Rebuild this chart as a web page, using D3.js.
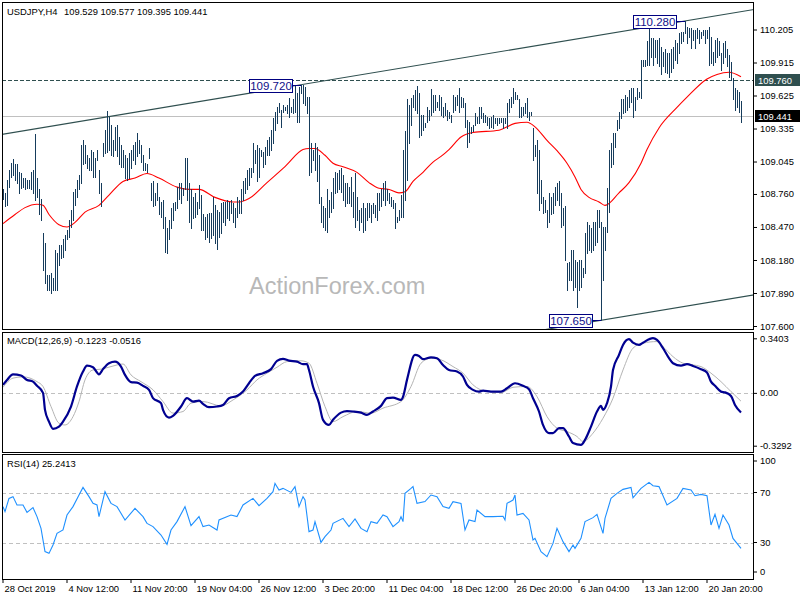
<!DOCTYPE html>
<html><head><meta charset="utf-8">
<script src="https://cdn.jsdelivr.net/npm/d3@7"></script>
<style>
body{margin:0;background:#fff;}
svg text{font-family:"Liberation Sans",Arial,sans-serif;}
</style></head><body>
<svg id="c" width="800" height="600"></svg>
<script>
const symbolTitle = "USDJPY,H4";
const ohlcText = "109.529 109.577 109.395 109.441";
const macdTitle = "MACD(12,26,9) -0.1223 -0.0516";
const rsiTitle = "RSI(14) 25.2413";

const high = [
108.80,108.77,108.88,108.97,109.03,109.07,109.02,109.02,108.95,108.94,
108.90,108.90,108.88,108.88,108.95,108.97,109.29,108.90,108.80,108.72,
108.42,108.33,108.05,108.05,108.07,108.02,108.27,108.24,108.31,108.31,
108.36,108.40,108.44,108.53,108.62,108.78,108.80,108.88,108.93,109.19,
109.23,109.19,109.10,109.08,109.15,109.13,109.08,109.15,108.97,108.86,
109.21,109.32,109.49,109.44,109.37,109.23,109.35,109.37,109.26,109.19,
109.15,109.10,109.08,109.12,109.15,109.19,109.22,109.30,109.23,109.19,
109.10,109.03,109.02,109.16,108.86,108.87,108.77,108.86,108.73,108.69,
108.71,108.56,108.46,108.53,108.64,108.68,108.69,108.82,108.86,108.86,
108.81,109.08,109.08,108.86,108.80,108.73,108.77,108.69,108.84,108.75,
108.58,108.56,108.58,108.59,108.59,108.73,108.66,108.62,108.60,108.68,
108.69,108.69,108.71,108.69,108.71,108.68,108.64,108.73,108.71,108.80,
108.87,108.90,108.97,108.99,108.99,109.21,109.15,109.19,109.16,109.15,
109.13,109.17,109.23,109.26,109.32,109.43,109.48,109.52,109.56,109.50,
109.54,109.52,109.54,109.60,109.52,109.59,109.72,109.65,109.70,109.72,
109.72,109.70,109.61,109.61,109.21,109.15,109.21,109.17,109.10,108.73,
108.65,108.64,108.80,108.71,108.78,108.90,108.95,108.94,108.97,108.99,
108.93,108.86,108.86,108.82,108.91,108.78,108.94,108.73,108.62,108.64,
108.68,108.64,108.68,108.68,108.66,108.68,108.66,108.77,108.77,108.80,
108.86,108.87,108.80,108.77,108.73,108.71,108.68,108.56,108.62,108.75,
109.15,109.31,109.59,109.54,109.60,109.63,109.67,109.71,109.65,109.45,
109.45,109.38,109.52,109.50,109.68,109.63,109.63,109.57,109.63,109.61,
109.52,109.56,109.50,109.48,109.45,109.63,109.61,109.63,109.69,109.61,
109.60,109.56,109.41,109.39,109.35,109.37,109.47,109.44,109.52,109.52,
109.47,109.45,109.44,109.43,109.44,109.45,109.43,109.43,109.43,109.43,
109.43,109.43,109.56,109.59,109.61,109.69,109.66,109.63,109.59,109.52,
109.52,109.56,109.60,109.48,109.48,109.34,109.19,109.23,109.15,108.88,
108.73,108.71,108.62,108.77,108.73,108.77,108.82,108.86,108.87,108.77,
108.64,108.65,108.15,108.16,108.27,108.27,108.18,108.16,108.18,108.18,
108.11,108.42,108.51,108.49,108.46,108.51,108.51,108.62,108.62,108.51,
108.47,108.47,108.81,109.15,109.21,109.30,109.30,109.41,109.48,109.59,
109.59,109.63,109.61,109.67,109.69,109.69,109.61,109.69,109.66,109.94,
109.94,109.94,110.10,110.23,110.13,110.13,110.11,110.11,110.13,110.05,
110.01,110.03,110.00,110.00,110.03,110.05,110.11,110.09,110.17,110.18,
110.18,110.28,110.23,110.22,110.22,110.20,110.20,110.22,110.20,110.18,
110.20,110.20,110.20,110.23,110.14,110.01,110.11,110.13,110.10,110.00,
110.09,110.10,110.03,109.98,109.92,109.78,109.69,109.67,109.66,109.577];

const low = [
108.72,108.65,108.66,108.82,108.91,108.93,108.88,108.86,108.77,108.81,
108.82,108.80,108.81,108.81,108.80,108.77,108.71,108.73,108.58,108.53,
108.09,107.98,107.92,107.92,107.89,107.92,107.92,107.92,108.14,108.20,
108.21,108.27,108.36,108.38,108.47,108.53,108.66,108.73,108.80,108.86,
109.02,109.03,108.99,108.97,108.97,108.91,108.91,109.06,108.77,108.65,
109.09,109.12,109.13,109.15,109.10,109.09,109.15,109.09,109.02,109.00,
109.00,108.90,108.88,108.90,108.99,109.06,109.02,109.09,109.12,109.04,
108.97,108.97,108.95,109.08,108.71,108.65,108.66,108.71,108.58,108.56,
108.46,108.25,108.24,108.36,108.46,108.53,108.62,108.64,108.72,108.68,
108.75,108.80,108.71,108.51,108.46,108.55,108.56,108.58,108.64,108.44,
108.44,108.36,108.38,108.34,108.37,108.40,108.33,108.28,108.38,108.42,
108.51,108.49,108.55,108.53,108.59,108.51,108.47,108.56,108.59,108.59,
108.71,108.77,108.80,108.84,108.91,108.95,109.03,108.87,108.91,109.09,
109.00,109.02,109.10,109.10,109.15,109.21,109.32,109.38,109.48,109.35,
109.48,109.50,109.47,109.44,109.48,109.47,109.48,109.39,109.39,109.65,
109.56,109.54,109.47,108.93,108.95,109.06,108.97,108.87,108.68,108.51,
108.47,108.44,108.43,108.56,108.60,108.64,108.77,108.78,108.80,108.78,
108.71,108.65,108.68,108.68,108.65,108.56,108.47,108.53,108.44,108.51,
108.43,108.44,108.53,108.56,108.51,108.59,108.56,108.53,108.62,108.65,
108.71,108.66,108.71,108.68,108.65,108.64,108.46,108.51,108.53,108.56,
108.56,108.71,108.88,109.21,109.37,109.52,109.50,109.47,109.26,109.28,
109.32,109.35,109.39,109.41,109.45,109.48,109.50,109.52,109.50,109.45,
109.44,109.45,109.41,109.43,109.39,109.48,109.50,109.54,109.48,109.52,
109.52,109.35,109.17,109.22,109.30,109.31,109.37,109.38,109.38,109.43,
109.39,109.39,109.37,109.34,109.35,109.34,109.38,109.37,109.38,109.39,
109.34,109.38,109.34,109.48,109.52,109.56,109.59,109.59,109.44,109.44,
109.45,109.47,109.44,109.41,109.45,109.06,109.09,108.77,108.62,108.68,
108.59,108.60,108.47,108.51,108.58,108.59,108.66,108.71,108.66,108.47,
108.49,108.18,107.92,108.00,108.00,107.92,107.94,107.77,107.92,107.94,
108.03,108.07,108.24,108.27,108.25,108.27,108.31,108.34,108.47,107.65,
108.00,108.27,108.43,108.60,109.00,109.02,109.17,109.32,109.34,109.43,
109.47,109.48,109.50,109.52,109.57,109.44,109.50,109.59,109.61,109.60,
109.88,109.88,109.89,109.89,109.96,109.89,109.96,109.91,109.88,109.81,
109.88,109.83,109.82,109.79,109.83,109.87,109.94,109.91,110.00,110.09,
110.10,110.17,110.09,110.14,110.04,110.11,110.04,110.13,110.09,110.13,
110.16,110.09,110.13,109.89,109.91,109.89,109.92,109.96,109.98,109.85,
109.91,109.96,109.88,109.79,109.76,109.59,109.50,109.52,109.48,109.395];

// moving average, read as [bar index, price]
const maPoints = [[0,108.50],[6,108.58],[11,108.64],[17,108.67],[20,108.66],[23,108.58],[28,108.49],[32,108.47],[36,108.51],[41,108.60],[48,108.66],[53,108.75],[60,108.87],[66,108.90],[72,108.94],[78,108.90],[87,108.82],[93,108.80],[98,108.80],[106,108.73],[115,108.69],[118,108.69],[123,108.72],[132,108.86],[141,109.00],[150,109.15],[153,109.16],[156,109.16],[161,109.10],[165,109.03],[170,109.00],[177,108.95],[183,108.86],[188,108.81],[193,108.80],[198,108.77],[201,108.78],[205,108.87],[210,108.95],[215,109.04],[219,109.09],[223,109.15],[229,109.26],[235,109.30],[248,109.32],[256,109.38],[262,109.39],[266,109.35],[272,109.23],[277,109.14],[282,109.03],[286,108.91],[289,108.80],[293,108.73],[298,108.69],[301,108.66],[308,108.77],[313,108.86],[319,109.03],[322,109.15],[328,109.34],[337,109.52],[342,109.61],[352,109.77],[357,109.81],[363,109.83],[369,109.79]];

const macdMain = [[0,0.05],[2,0.08],[5,0.116],[9,0.108],[12,0.081],[15,0.07],[17,0.044],[20,0],[21,-0.106],[23,-0.179],[25,-0.224],[28,-0.21],[30,-0.179],[34,-0.085],[37,0.04],[40,0.133],[42,0.17],[45,0.16],[48,0.116],[50,0.148],[53,0.185],[56,0.195],[59,0.164],[61,0.112],[64,0.067],[67,0.064],[70,0.044],[73,0.019],[75,-0.033],[79,-0.064],[80,-0.106],[83,-0.154],[85,-0.143],[89,-0.085],[92,-0.033],[95,-0.054],[98,-0.048],[100,-0.068],[103,-0.089],[107,-0.085],[110,-0.075],[113,-0.033],[117,-0.019],[120,0.008],[123,0.06],[126,0.106],[130,0.123],[134,0.148],[137,0.2],[140,0.212],[143,0.201],[147,0.195],[150,0.179],[152,0.179],[153,0.143],[155,0.04],[158,-0.064],[160,-0.168],[163,-0.2],[165,-0.168],[169,-0.123],[172,-0.114],[175,-0.116],[179,-0.123],[182,-0.137],[185,-0.116],[189,-0.081],[192,-0.033],[195,-0.029],[199,-0.044],[200,-0.025],[202,0.081],[206,0.237],[208,0.23],[210,0.21],[214,0.222],[217,0.216],[220,0.174],[223,0.143],[227,0.133],[230,0.102],[232,0.05],[235,0.019],[238,0.008],[240,0.014],[244,0.008],[249,0.008],[252,0.029],[256,0.06],[260,0.044],[263,0.023],[265,-0.033],[268,-0.116],[270,-0.2],[273,-0.251],[275,-0.251],[278,-0.22],[280,-0.22],[283,-0.272],[285,-0.313],[289,-0.324],[291,-0.293],[294,-0.21],[297,-0.116],[299,-0.081],[300,-0.106],[302,-0.064],[304,0.04],[305,0.143],[308,0.237],[310,0.299],[313,0.335],[315,0.313],[318,0.299],[320,0.313],[325,0.341],[327,0.33],[330,0.279],[333,0.216],[335,0.185],[339,0.17],[342,0.179],[345,0.168],[349,0.148],[352,0.127],[354,0.07],[356,0.044],[359,0.008],[361,0.003],[364,-0.019],[366,-0.075],[369,-0.1223]];

const macdSignal = [[0,0.035],[5,0.092],[10,0.1],[17,0.07],[20,0.04],[24,-0.085],[28,-0.189],[31,-0.2],[35,-0.148],[38,-0.054],[41,0.081],[45,0.143],[49,0.148],[54,0.164],[60,0.18],[64,0.112],[69,0.07],[75,0.019],[80,-0.054],[85,-0.126],[90,-0.116],[94,-0.064],[100,-0.054],[109,-0.081],[115,-0.044],[122,0.019],[127,0.081],[132,0.123],[137,0.16],[142,0.195],[149,0.2],[153,0.185],[157,0.06],[161,-0.085],[165,-0.179],[170,-0.148],[177,-0.116],[184,-0.126],[190,-0.095],[199,-0.054],[204,0.04],[209,0.185],[214,0.216],[219,0.206],[225,0.164],[230,0.123],[235,0.05],[242,0.008],[249,0.002],[255,0.035],[262,0.04],[267,-0.023],[272,-0.148],[277,-0.22],[282,-0.241],[287,-0.272],[290,-0.303],[295,-0.251],[300,-0.158],[305,-0.033],[310,0.143],[315,0.279],[320,0.31],[327,0.32],[330,0.288],[335,0.226],[340,0.185],[349,0.164],[354,0.123],[359,0.07],[364,0.008],[369,-0.0516]];

const rsiPoints = [[0,58.7],[1,54.7],[3,65.3],[5,66.7],[7,60],[10,60],[12,54.1],[15,57.9],[17,50.7],[19,41.3],[21,22.7],[23,21.3],[25,28],[27,37.3],[30,40],[32,52],[35,58.7],[38,68],[40,74.1],[43,66.7],[45,61.3],[47,60],[48,50.7],[51,70.7],[54,61.3],[57,58.7],[61,48],[66,57.3],[70,50.7],[72,45.3],[75,42.7],[79,36],[82,28.5],[84,40],[87,46.7],[91,58.7],[94,43.5],[98,50.7],[100,42.7],[103,44],[107,40],[108,48],[114,52],[117,50.7],[120,60],[125,65.3],[128,59.5],[132,65.3],[135,70.7],[136,77.3],[138,72],[140,73.3],[144,70.1],[146,74.7],[148,58.7],[150,66.7],[151,64],[153,38.7],[155,40],[156,46.7],[159,30.1],[161,34.7],[164,40],[165,45.3],[170,49.3],[173,42.7],[176,48.8],[179,41.3],[182,38.7],[184,46.7],[187,45.3],[190,52],[192,50.7],[195,42.7],[198,46.7],[199,50.7],[200,46.7],[201,69.3],[204,73.3],[205,74.7],[207,61.3],[211,62.7],[214,68],[217,66.7],[220,58.7],[223,57.3],[225,62.7],[229,61.3],[231,40],[233,48],[236,46.7],[237,56],[241,50.7],[245,50.7],[250,51],[251,48],[252,61.3],[255,64],[256,68],[257,52],[260,53.3],[263,48],[265,32],[266,33.3],[269,22.7],[272,18.7],[275,29.3],[277,41.3],[280,30.7],[283,22.7],[285,28],[286,25.3],[289,33.3],[291,46.7],[295,49.9],[297,52.5],[300,37.3],[301,49.3],[304,65.3],[307,69.3],[310,72.5],[314,74.1],[315,65.8],[319,73.3],[323,78.1],[325,75.4],[328,74.7],[332,60],[337,65.3],[340,73.3],[344,72],[346,67.4],[349,68.5],[352,67.4],[354,44],[356,52.5],[358,41.3],[360,52],[363,44],[365,33.3],[367,29.3],[369,25.2413]];

const priceTicks = [107.600,107.890,108.180,108.470,108.760,109.045,109.335,109.625,109.915,110.205];
const macdTicks = [0.3403, 0, -0.3292];
const rsiTicks = [100, 70, 30, 0];
const rsiLevels = [70, 30];
const dateTickIndex = [0,32,64,96,128,160,192,224,256,288,320,352];
const dateLabels = ["28 Oct 2019","4 Nov 12:00","11 Nov 20:00","19 Nov 04:00","26 Nov 12:00","3 Dec 20:00","11 Dec 04:00","18 Dec 12:00","26 Dec 20:00","6 Jan 04:00","13 Jan 12:00","20 Jan 20:00"];
const hLevel = 109.760;
const lastPrice = 109.441;
// channel anchors [bar index, price]
const channelUpper = [[149,109.720],[341,110.280]];
const channelLower = [299,107.650];
const pointLabels = [[149,109.720],[341,110.280],[299,107.650]];

// ---------- drawing ----------
const svg = d3.select("#c");
const L = 2, R = 754;
const P = {main:[2,329], macd:[332,452], rsi:[454,579]};
const FS = 9.4;
const barColor = "#163c5c";

const x = d3.scaleLinear().domain([0,369]).range([3,741]);
const y = d3.scaleLinear().domain([107.6,110.205]).range([326,29.5]);
const ym = d3.scaleLinear().domain([-0.3292,0.3403]).range([445.7,338.3]);
const yr = d3.scaleLinear().domain([0,100]).range([580,455]);
const xp = i => x(i) + 0.5;

const defs = svg.append("defs");
Object.entries(P).forEach(([k,[t,b]]) => {
  defs.append("clipPath").attr("id","clip-"+k).append("rect")
    .attr("x",L).attr("y",t).attr("width",R-L).attr("height",b-t);
});

// watermark
svg.append("text").attr("x",249).attr("y",294).attr("font-size",23.5)
  .attr("fill","#b8b8b8").text("ActionForex.com");

const gMain = svg.append("g").attr("clip-path","url(#clip-main)");

// horizontal level lines
gMain.append("line").attr("x1",L).attr("x2",R)
  .attr("y1",Math.round(y(lastPrice))+0.5).attr("y2",Math.round(y(lastPrice))+0.5)
  .attr("stroke","#c0c0c0");
gMain.append("line").attr("x1",L).attr("x2",R)
  .attr("y1",Math.round(y(hLevel))+0.5).attr("y2",Math.round(y(hLevel))+0.5)
  .attr("stroke","#2f4f4f").attr("stroke-dasharray","4,2");

// channel lines
const slope = (channelUpper[1][1]-channelUpper[0][1])/(channelUpper[1][0]-channelUpper[0][0]);
const i0 = -2, i1 = 380;
const lineAt = (a, i) => a[1] + slope*(i - a[0]);
[[channelUpper[0]],[channelLower]].forEach(([a]) => {
  gMain.append("line").attr("x1",x(i0)).attr("x2",x(i1))
    .attr("y1",y(lineAt(a,i0))).attr("y2",y(lineAt(a,i1)))
    .attr("stroke","#2f4f4f").attr("stroke-width",1.1);
});

// MA
gMain.append("path").datum(maPoints)
  .attr("d", d3.line().x(d=>x(d[0])).y(d=>y(d[1])).curve(d3.curveMonotoneX))
  .attr("fill","none").attr("stroke","#ff0000").attr("stroke-width",1.1);

// price bars
gMain.selectAll("line.bar").data(high).join("line").attr("class","bar")
  .attr("x1",(d,i)=>xp(i)).attr("x2",(d,i)=>xp(i))
  .attr("y1",d=>Math.round(y(d))).attr("y2",(d,i)=>Math.round(y(low[i]))+1)
  .attr("stroke",barColor).attr("stroke-width",1);

// point labels
pointLabels.forEach(([i,p]) => {
  const ax = x(i), ay = Math.round(y(p))+0.5;
  const bw = 43, bh = 13, bx = Math.round(ax) - 9 - bw;
  svg.append("line").attr("x1",bx+bw).attr("x2",ax).attr("y1",ay).attr("y2",ay)
    .attr("stroke","#000080");
  svg.append("rect").attr("x",bx+0.5).attr("y",Math.round(ay-bh/2)+0.5)
    .attr("width",bw).attr("height",bh).attr("fill","#fff").attr("stroke","#000080");
  svg.append("text").attr("x",bx+bw/2+0.5).attr("y",ay+4).attr("text-anchor","middle")
    .attr("font-size",11.5).attr("fill","#10108a").text(p.toFixed(3));
});

// MACD
const gM = svg.append("g").attr("clip-path","url(#clip-macd)");
gM.append("line").attr("x1",L).attr("x2",R).attr("y1",Math.round(ym(0))+0.5).attr("y2",Math.round(ym(0))+0.5)
  .attr("stroke","#c0c0c0").attr("stroke-dasharray","4,3");
gM.append("path").datum(macdSignal)
  .attr("d", d3.line().x(d=>x(d[0])).y(d=>ym(d[1])).curve(d3.curveMonotoneX))
  .attr("fill","none").attr("stroke","#b4b4b4").attr("stroke-width",1);
gM.append("path").datum(macdMain)
  .attr("d", d3.line().x(d=>x(d[0])).y(d=>ym(d[1])).curve(d3.curveMonotoneX))
  .attr("fill","none").attr("stroke","#000090").attr("stroke-width",2.2);

// RSI
const gR = svg.append("g").attr("clip-path","url(#clip-rsi)");
rsiLevels.forEach(v => {
  gR.append("line").attr("x1",L).attr("x2",R).attr("y1",Math.round(yr(v))+0.5).attr("y2",Math.round(yr(v))+0.5)
    .attr("stroke","#c0c0c0").attr("stroke-dasharray","4,3");
});
gR.append("path").datum(rsiPoints)
  .attr("d", d3.line().x(d=>x(d[0])).y(d=>yr(d[1])))
  .attr("fill","none").attr("stroke","#1e90ff").attr("stroke-width",1.1);

// frames
Object.values(P).forEach(([t,b]) => {
  svg.append("rect").attr("x",L+0.5).attr("y",t+0.5).attr("width",R-L-1).attr("height",b-t)
    .attr("fill","none").attr("stroke","#000");
});

// axes
function styleAxis(g){
  g.select(".domain").remove();
  g.selectAll(".tick line").attr("stroke","#000");
  g.selectAll(".tick text").attr("font-size",FS).attr("fill","#000")
    .attr("font-family","Liberation Sans, Arial, sans-serif");
}
const ay = svg.append("g").attr("transform",`translate(${R},0)`)
  .call(d3.axisRight(y).tickValues(priceTicks).tickFormat(d3.format(".3f")).tickSize(3).tickPadding(3));
styleAxis(ay);

const am = svg.append("g").attr("transform",`translate(${R},0)`)
  .call(d3.axisRight(ym).tickValues(macdTicks).tickFormat(d => d===0 ? "0.00" : d.toFixed(4)).tickSize(3).tickPadding(3));
styleAxis(am);

const ar = svg.append("g").attr("transform",`translate(${R},0)`)
  .call(d3.axisRight(yr).tickValues(rsiTicks).tickFormat(d3.format("d")).tickSize(3).tickPadding(3));
styleAxis(ar);
ar.selectAll(".tick").attr("transform", d => {
  const yy = Math.min(Math.max(yr(d), P.rsi[0]+7), P.rsi[1]-7);
  return `translate(0,${yy})`;
});

const ax = svg.append("g").attr("transform",`translate(0,${P.rsi[1]})`)
  .call(d3.axisBottom(x).tickValues(dateTickIndex).tickFormat((d,i)=>dateLabels[i]).tickSize(4).tickPadding(2));
styleAxis(ax);
ax.selectAll(".tick line").attr("x1",-0.5).attr("x2",-0.5);
ax.selectAll(".tick text").attr("text-anchor","start").attr("dx",1);

// right-axis price tags
[[hLevel,"#2f4f4f"],[lastPrice,"#000"]].forEach(([p,c]) => {
  const yy = Math.round(y(p));
  svg.append("rect").attr("x",R+1).attr("y",yy-6).attr("width",45).attr("height",12).attr("fill",c);
  svg.append("text").attr("x",R+4).attr("y",yy+3.5).attr("font-size",FS).attr("fill","#fff").text(p.toFixed(3));
});

// titles
svg.append("text").attr("x",7).attr("y",14.5).attr("font-size",FS).attr("fill","#000").text(symbolTitle);
svg.append("text").attr("x",64).attr("y",14.5).attr("font-size",FS).attr("fill","#000").text(ohlcText);
svg.append("text").attr("x",7).attr("y",344).attr("font-size",FS).attr("fill","#000").text(macdTitle);
svg.append("text").attr("x",7).attr("y",466.5).attr("font-size",FS).attr("fill","#000").text(rsiTitle);
</script>
</body></html>
